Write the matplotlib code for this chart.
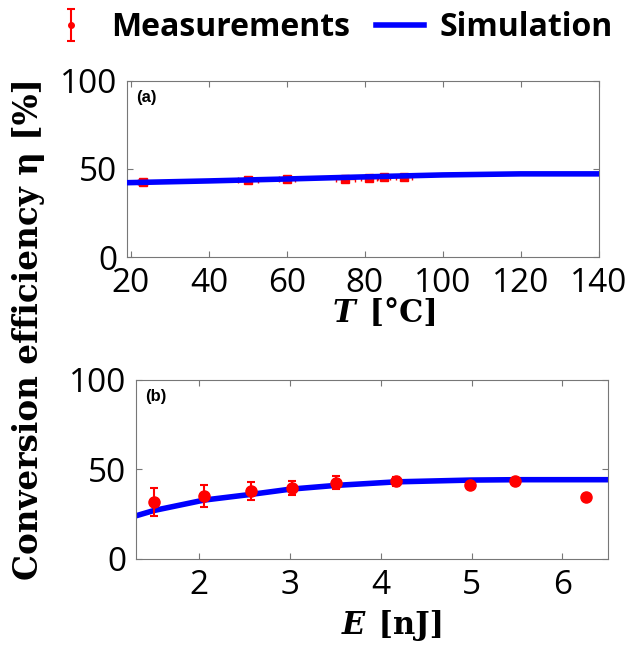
import numpy as np
import matplotlib.pyplot as plt
from matplotlib.lines import Line2D

# (a) temperature dependence
T_meas = [23, 50, 60, 75, 81, 85, 90]
eta_T_meas = [42.8, 43.7, 44.3, 44.3, 44.7, 45.6, 45.6]
T_xerr = [1.2, 2.5, 2.0, 2.5, 2.0, 1.5, 2.0]
T_yerr = [1.5, 1.5, 1.5, 1.5, 1.5, 1.5, 1.5]
T_sim = [19, 40, 60, 80, 100, 120, 140]
eta_T_sim = [42.2, 43.2, 44.3, 45.5, 46.6, 47.2, 47.2]

# (b) pulse energy dependence
E_meas = [1.50, 2.05, 2.57, 3.02, 3.51, 4.17, 4.98, 5.48, 6.26]
eta_E_meas = [31.8, 35.0, 38.0, 39.6, 42.6, 43.3, 41.1, 43.5, 34.6]
E_yerr = [8.0, 6.0, 5.0, 4.0, 3.4, 2.5, 1.0, 1.5, 0.0]
E_sim = [1.3, 1.5, 2.05, 2.57, 3.0, 3.5, 4.17, 5.0, 5.5, 6.5]
eta_E_sim = [24.0, 27.0, 32.8, 36.0, 38.9, 41.0, 43.0, 44.0, 44.2, 44.2]

red = '#ff0000'
blue = '#0000ff'
tickfont = 'Open Sans'
serif = 'DejaVu Serif'

fig = plt.figure(figsize=(6.35, 6.46), dpi=100)
ax1 = fig.add_axes([0.200, 0.602, 0.743, 0.273])
ax2 = fig.add_axes([0.214, 0.135, 0.743, 0.277])

ax1.plot(T_sim, eta_T_sim, color=blue, lw=4, zorder=3)
ax1.errorbar(T_meas, eta_T_meas, xerr=T_xerr, yerr=T_yerr, fmt='s', color=red,
             ms=6, elinewidth=1, capsize=2, zorder=2)
ax1.set_xlim(19, 140)
ax1.set_xticks([20, 40, 60, 80, 100, 120, 140])

ax2.plot(E_sim, eta_E_sim, color=blue, lw=4, zorder=2)
ax2.errorbar(E_meas, eta_E_meas, yerr=E_yerr, fmt='o', color=red,
             ms=8, elinewidth=1.5, capsize=3, capthick=1.5, zorder=3)
ax2.set_xlim(1.3, 6.5)
ax2.set_xticks([2, 3, 4, 5, 6])

for ax, tag in [(ax1, '(a)'), (ax2, '(b)')]:
    ax.set_ylim(0, 100)
    ax.set_yticks([0, 50, 100])
    ax.tick_params(direction='in', top=True, right=True, length=4,
                   color='#777777', labelsize=24)
    ax.tick_params(axis='x', pad=7)
    ax.tick_params(axis='y', pad=7)
    for lab in ax.get_xticklabels() + ax.get_yticklabels():
        lab.set_fontfamily(tickfont)
    for s in ax.spines.values():
        s.set_color('#777777')
    ax.text(0.02, 0.95, tag, transform=ax.transAxes, fontsize=12,
            fontweight='bold', family='Liberation Sans', va='top')

# axis labels: italic bold symbol + bold unit
fig.text(0.56, 0.514, 'T', fontsize=22, fontweight='bold', style='italic',
         family=serif, ha='right', va='center')
fig.text(0.565, 0.514, ' [°C]', fontsize=22, fontweight='bold',
         family=serif, ha='left', va='center')
fig.text(0.575, 0.031, 'E', fontsize=22, fontweight='bold', style='italic',
         family=serif, ha='right', va='center')
fig.text(0.58, 0.031, ' [nJ]', fontsize=22, fontweight='bold',
         family=serif, ha='left', va='center')

fig.text(0.045, 0.49, 'Conversion efficiency η [%]', rotation=90,
         fontsize=23.5, fontweight='bold', family=serif,
         ha='center', va='center')

# legend
h_meas = ax2.errorbar([np.nan], [np.nan], yerr=[1], fmt='o', color=red, ms=4,
                      elinewidth=1.5, capsize=3, capthick=1.5)
h_sim = Line2D([], [], color=blue, lw=4)
fig.legend([h_meas, h_sim], ['Measurements', 'Simulation'], loc='center',
           bbox_to_anchor=(0.52, 0.957), ncol=2, frameon=False,
           prop={'family': 'Open Sans', 'weight': 'bold', 'size': 23},
           handlelength=1.5, handletextpad=0.5, columnspacing=0.8)

fig.savefig('out.png', dpi=100)
